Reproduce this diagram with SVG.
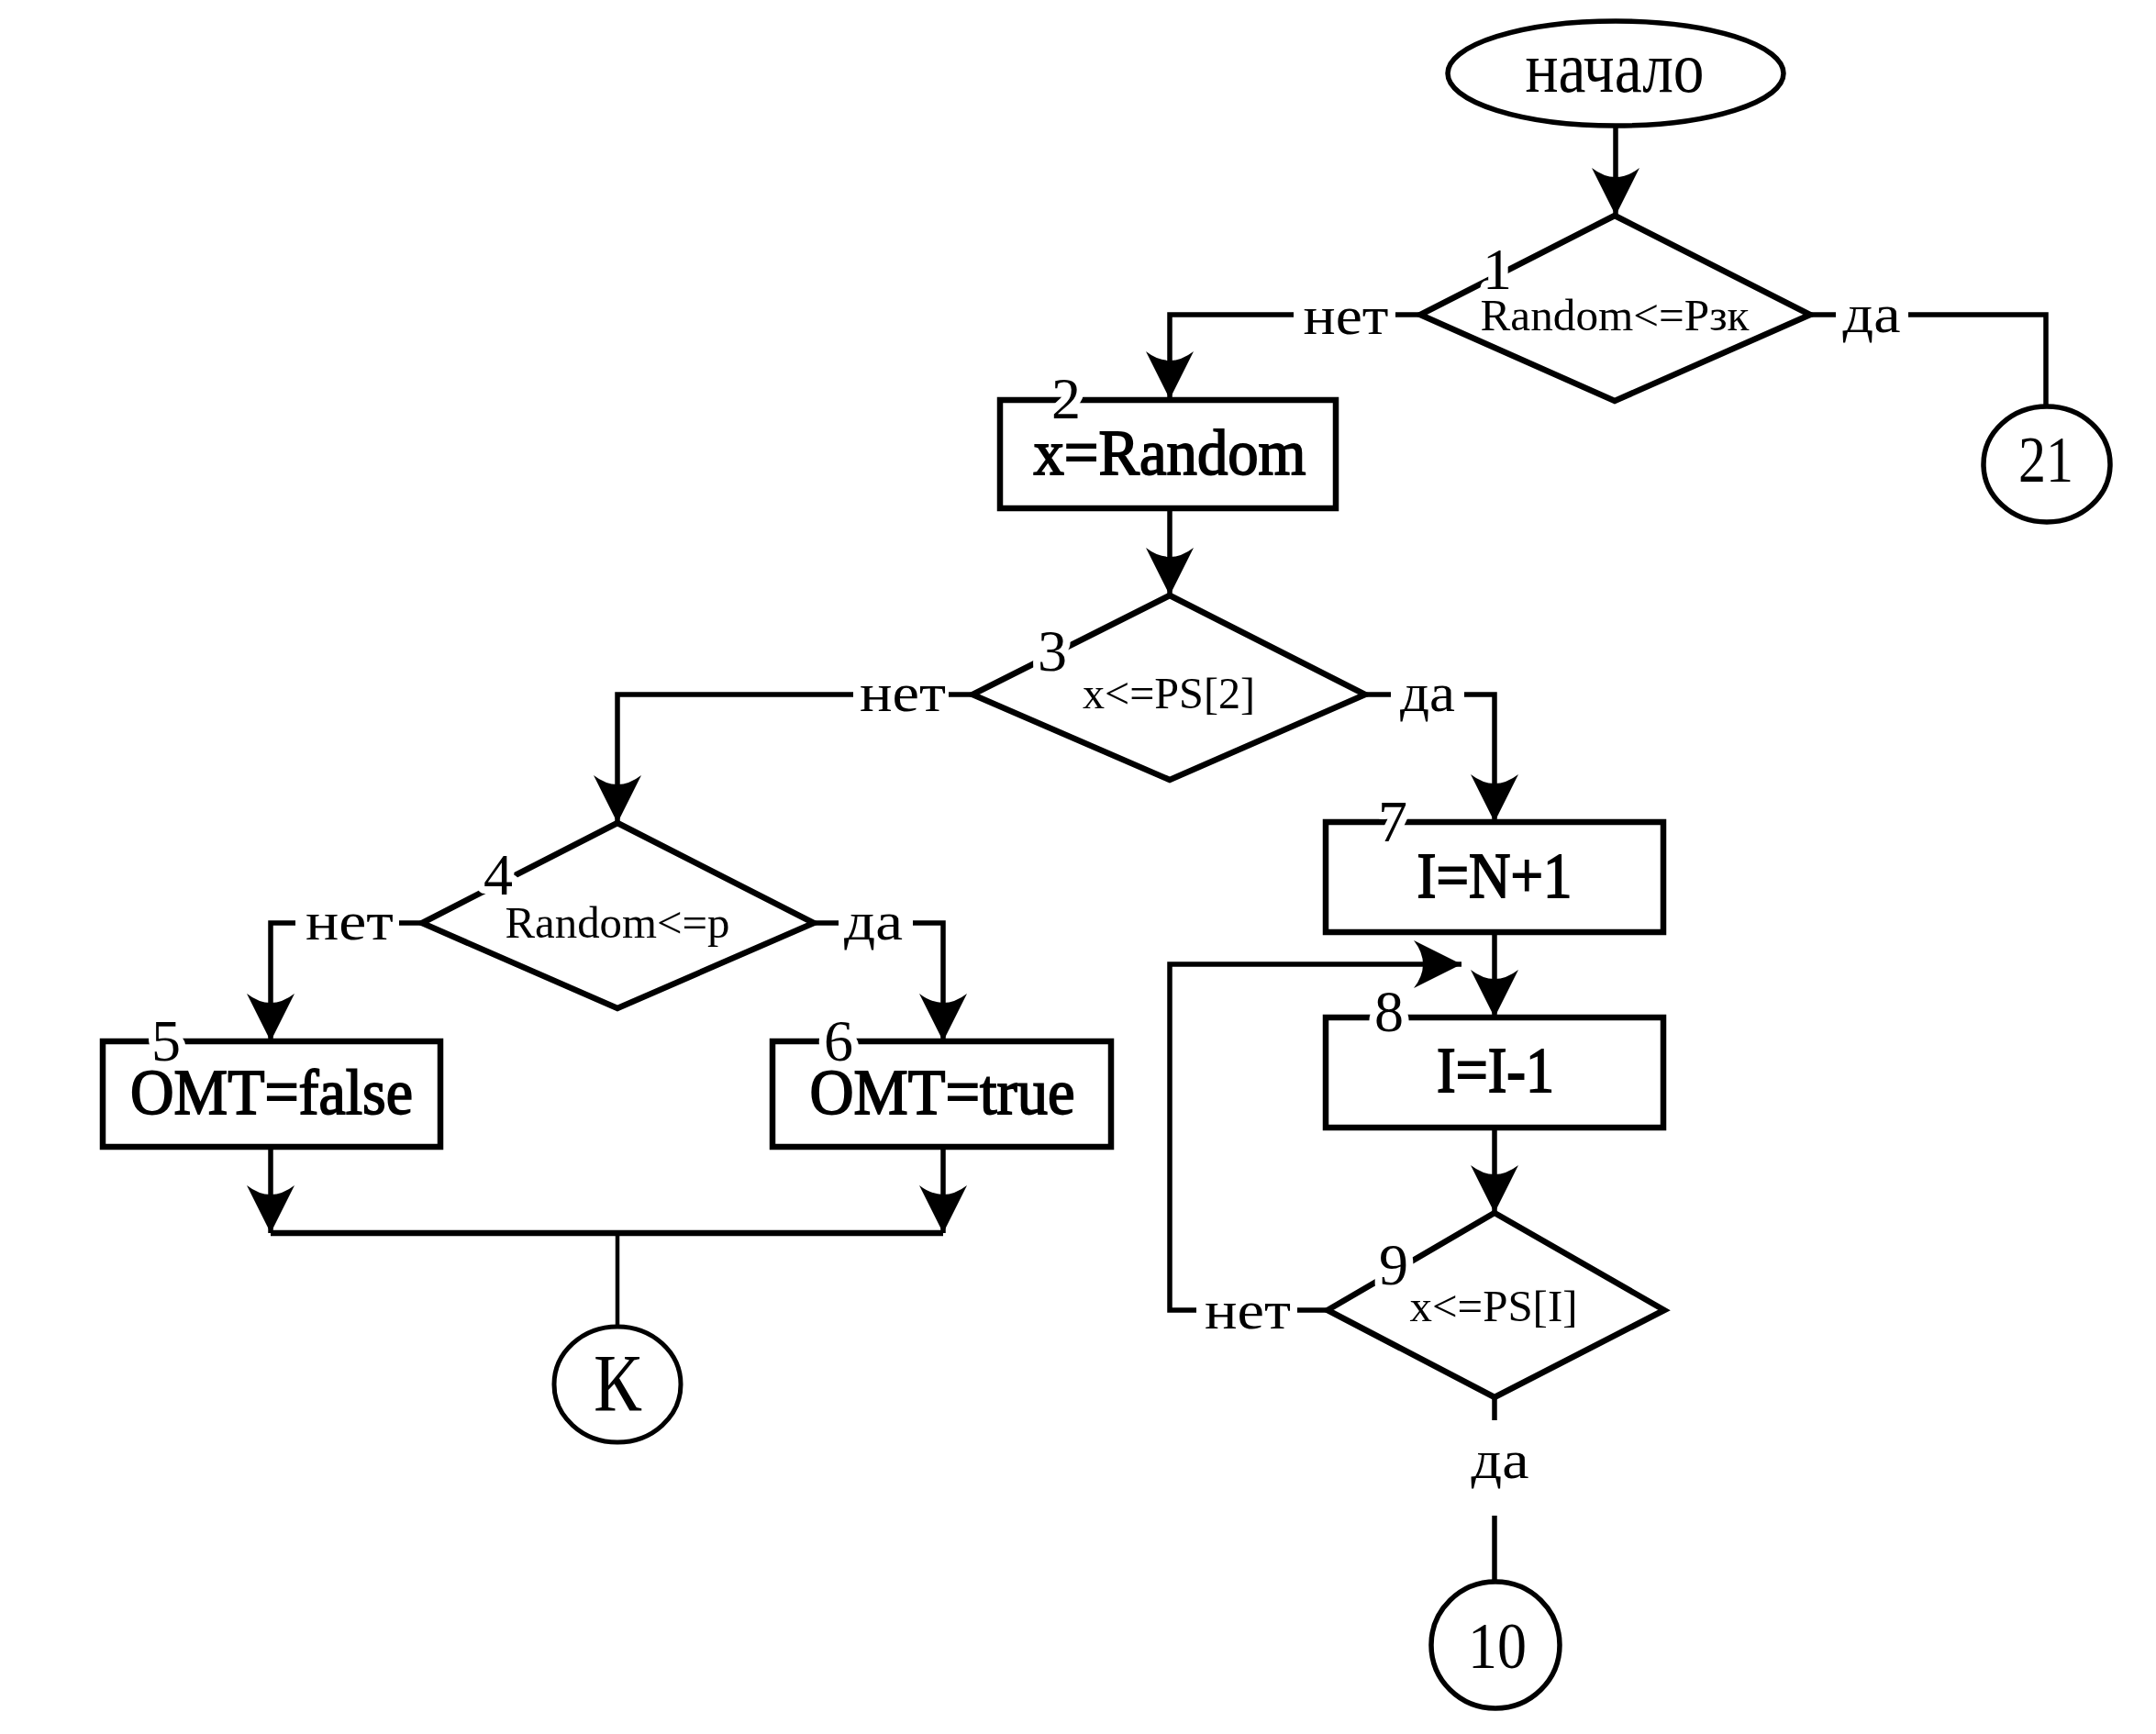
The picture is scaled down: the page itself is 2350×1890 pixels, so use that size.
<svg xmlns="http://www.w3.org/2000/svg" width="2350" height="1890" viewBox="0 0 2350 1890">
<defs>
<marker id="arr" markerUnits="userSpaceOnUse" viewBox="0 -27 54 54" refX="52" refY="0" markerWidth="54" markerHeight="54" orient="auto">
<path d="M52,0 L0,-26 Q20,0 0,26 Z" fill="#000"/>
</marker>
<style>
text{font-family:"Liberation Serif","Times New Roman",serif;fill:#000;text-anchor:middle}
.shape{fill:none;stroke:#000;stroke-width:6.5;stroke-linejoin:miter}
.term{fill:none;stroke:#000;stroke-width:5.5}
.conn{fill:none;stroke:#000;stroke-width:5.5}
.arrow{marker-end:url(#arr)}
.num{font-size:64px;stroke:#fff;stroke-width:16px;paint-order:stroke;stroke-linejoin:round}
.cond{font-size:48px}
.box{font-size:70px;stroke:#000;stroke-width:1.8px}
.lbl{font-size:60px}
.big{font-size:72px}
</style>
</defs>
<rect width="2350" height="1890" fill="#fff"/>

<g id="connectors">
<line class="conn arrow" x1="1761" y1="137" x2="1761" y2="235"/>
<polyline class="conn" points="1548,343 1521,343"/>
<polyline class="conn arrow" points="1410,343 1275,343 1275,435"/>
<polyline class="conn" points="1973,343 2001,343"/>
<polyline class="conn" points="2080,343 2230,343 2230,443"/>
<line class="conn arrow" x1="1275" y1="555" x2="1275" y2="649"/>
<polyline class="conn" points="1060,757 1034,757"/>
<polyline class="conn arrow" points="930,757 673,757 673,897"/>
<polyline class="conn" points="1488,757 1516,757"/>
<polyline class="conn arrow" points="1596,757 1629,757 1629,896"/>
<polyline class="conn" points="460,1006 435,1006"/>
<polyline class="conn arrow" points="322,1006 295,1006 295,1135"/>
<polyline class="conn" points="887,1006 914,1006"/>
<polyline class="conn arrow" points="995,1006 1028,1006 1028,1135"/>
<line class="conn arrow" x1="295" y1="1250" x2="295" y2="1344"/>
<line class="conn arrow" x1="1028" y1="1250" x2="1028" y2="1344"/>
<line class="conn" x1="295" y1="1344" x2="1028" y2="1344" style="stroke-width:6.5"/>
<line class="conn" x1="673" y1="1344" x2="673" y2="1446" style="stroke-width:4.5"/>
<line class="conn arrow" x1="1629" y1="1016" x2="1629" y2="1109"/>
<line class="conn arrow" x1="1629" y1="1229" x2="1629" y2="1322"/>
<polyline class="conn" points="1447,1428 1414,1428"/>
<polyline class="conn arrow" points="1304,1428 1275,1428 1275,1051 1593,1051"/>
<line class="conn" x1="1629" y1="1523" x2="1629" y2="1548"/>
<line class="conn" x1="1629" y1="1652" x2="1629" y2="1724"/>
<text class="lbl" x="1467" y="364" textLength="93" lengthAdjust="spacingAndGlyphs">нет</text>
<text class="lbl" x="2040" y="362" textLength="63" lengthAdjust="spacingAndGlyphs">да</text>
<text class="lbl" x="984" y="775" textLength="94" lengthAdjust="spacingAndGlyphs">нет</text>
<text class="lbl" x="1556" y="775" textLength="60" lengthAdjust="spacingAndGlyphs">да</text>
<text class="lbl" x="381" y="1024" textLength="96" lengthAdjust="spacingAndGlyphs">нет</text>
<text class="lbl" x="952" y="1024" textLength="64" lengthAdjust="spacingAndGlyphs">да</text>
<text class="lbl" x="1360" y="1448" textLength="94" lengthAdjust="spacingAndGlyphs">нет</text>
<text class="lbl" x="1635" y="1611" textLength="63" lengthAdjust="spacingAndGlyphs">да</text>
</g>

<g id="start">
<ellipse class="term" cx="1761" cy="80" rx="183" ry="57"/>
<text x="1760" y="100" style="font-size:78px" textLength="195" lengthAdjust="spacingAndGlyphs">начало</text>
</g>

<g id="n1">
<polygon class="shape" points="1760,235 1973,343 1760,437 1548,343"/>
<text class="num" x="1632" y="315">1</text>
<text class="cond" x="1760" y="360" textLength="293" lengthAdjust="spacingAndGlyphs">Random&lt;=Pзк</text>
</g>

<g id="c21">
<ellipse class="term" cx="2231" cy="506" rx="69" ry="63"/>
<text class="big" x="2230" y="525" textLength="60" lengthAdjust="spacingAndGlyphs">21</text>
</g>

<g id="n2">
<rect class="shape" x="1090" y="436" width="366" height="118"/>
<text class="num" x="1162" y="456">2</text>
<text class="box" x="1275" y="517" textLength="297" lengthAdjust="spacingAndGlyphs">x=Random</text>
</g>

<g id="n3">
<polygon class="shape" points="1275,649 1488,757 1275,850 1060,757"/>
<text class="num" x="1147" y="731">3</text>
<text class="cond" x="1274" y="772" textLength="188" lengthAdjust="spacingAndGlyphs">x&lt;=PS[2]</text>
</g>

<g id="n4">
<polygon class="shape" points="673,897 887,1006 673,1099 460,1006"/>
<text class="num" x="543" y="975">4</text>
<text class="cond" x="673" y="1022" textLength="245" lengthAdjust="spacingAndGlyphs">Random&lt;=p</text>
</g>

<g id="n5">
<rect class="shape" x="112" y="1135" width="368" height="115"/>
<text class="num" x="181" y="1156">5</text>
<text class="box" x="296" y="1214" textLength="308" lengthAdjust="spacingAndGlyphs">OMT=false</text>
</g>

<g id="n6">
<rect class="shape" x="842" y="1135" width="369" height="115"/>
<text class="num" x="914" y="1156">6</text>
<text class="box" x="1027" y="1214" textLength="289" lengthAdjust="spacingAndGlyphs">OMT=true</text>
</g>

<g id="cK">
<ellipse class="term" cx="673" cy="1509" rx="69" ry="63" style="stroke-width:5"/>
<text x="673" y="1537" style="font-size:88px" textLength="52" lengthAdjust="spacingAndGlyphs">К</text>
</g>

<g id="n7">
<rect class="shape" x="1445" y="896" width="368" height="120"/>
<text class="num" x="1518" y="917">7</text>
<text class="box" x="1629" y="978" textLength="169" lengthAdjust="spacingAndGlyphs">I=N+1</text>
</g>

<g id="n8">
<rect class="shape" x="1445" y="1109" width="368" height="120"/>
<text class="num" x="1514" y="1124">8</text>
<text class="box" x="1630" y="1190" textLength="128" lengthAdjust="spacingAndGlyphs">I=I-1</text>
</g>

<g id="n9">
<polygon class="shape" points="1629,1322 1814,1428 1629,1523 1447,1428"/>
<text class="num" x="1519" y="1400">9</text>
<text class="cond" x="1628" y="1440" textLength="183" lengthAdjust="spacingAndGlyphs">x&lt;=PS[I]</text>
</g>

<g id="c10">
<ellipse class="term" cx="1630" cy="1793" rx="70" ry="69"/>
<text class="big" x="1632" y="1818" textLength="64" lengthAdjust="spacingAndGlyphs">10</text>
</g>
</svg>
